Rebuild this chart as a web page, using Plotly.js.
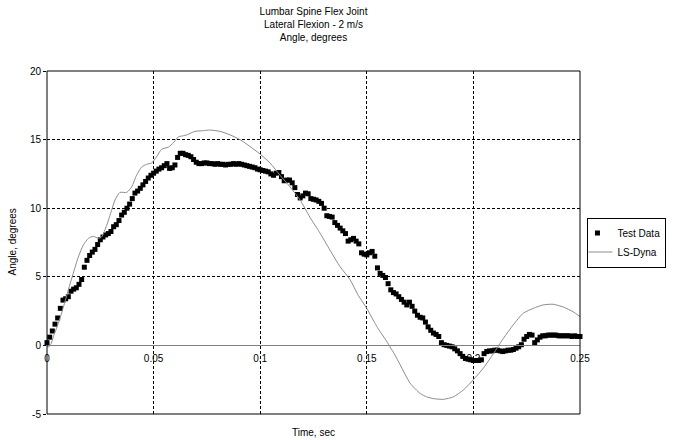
<!DOCTYPE html>
<html>
<head>
<meta charset="utf-8">
<script src="https://cdn.plot.ly/plotly-3.0.1.min.js"></script>
<style>html,body{margin:0;padding:0;background:#fff;}#chart{width:675px;height:440px;}</style>
</head>
<body>
<div id="chart"></div>
<script>
// Test data sampled every 0.00125 s from t = 0 to 0.25 s
var testStart = 0;
var testStep = 0.00125;
var testAngle = [
  0.2, 0.6, 1.05, 1.55, 2.0, 2.7, 3.3, 3.4, 3.55, 3.95,
  4.1, 4.2, 4.45, 4.8, 5.7, 6.2, 6.55, 6.8, 7.0, 7.35,
  7.7, 7.9, 8.05, 8.15, 8.3, 8.65, 8.8, 9.1, 9.5, 9.7,
  10.0, 10.3, 10.7, 11.1, 11.25, 11.45, 11.7, 11.95, 12.2, 12.4,
  12.55, 12.7, 12.85, 12.95, 13.1, 13.25, 12.9, 12.95, 13.15, 13.7,
  14.0, 14.0, 13.9, 13.85, 13.75, 13.55, 13.35, 13.25, 13.25, 13.3,
  13.3, 13.25, 13.25, 13.2, 13.25, 13.2, 13.2, 13.15, 13.2, 13.2,
  13.25, 13.2, 13.25, 13.2, 13.15, 13.1, 13.05, 13.0, 12.95, 12.85,
  12.8, 12.75, 12.7, 12.65, 12.5, 12.4, 12.55, 12.6, 12.3, 12.0,
  12.05, 12.05, 11.85, 11.5, 11.0, 10.75, 10.9, 11.1, 11.05, 10.7,
  10.65, 10.6, 10.5, 10.35, 10.0, 9.45, 9.4, 9.35, 8.95, 8.75,
  8.55, 8.35, 8.15, 7.6, 7.7, 7.8, 7.6, 7.4, 6.75, 6.65,
  6.6, 6.75, 6.85, 6.5, 5.65, 5.25, 5.1, 4.95, 4.5, 4.05,
  3.85, 3.75, 3.55, 3.35, 3.15, 2.95, 3.15, 2.85, 2.5, 2.2,
  2.05, 2.0, 1.7, 1.35, 1.1, 0.9, 0.8, 0.65, 0.2, 0.05,
  0.0, -0.05, -0.1, -0.25, -0.4, -0.6, -0.8, -0.95, -1.0, -1.05,
  -1.1, -1.1, -1.1, -1.05, -0.6, -0.45, -0.4, -0.4, -0.35, -0.35,
  -0.4, -0.45, -0.4, -0.35, -0.35, -0.3, -0.2, -0.1, 0.05, 0.45,
  0.65, 0.8, 0.75, 0.2, 0.4, 0.6, 0.7, 0.7, 0.75, 0.75,
  0.75, 0.75, 0.7, 0.7, 0.7, 0.7, 0.7, 0.65, 0.7, 0.65,
  0.65
];

// LS-Dyna simulation
var dynaTime = [
  0, 0.001, 0.002, 0.003, 0.0053, 0.0077, 0.01, 0.0123, 0.0147, 0.017,
  0.0194, 0.0217, 0.0241, 0.0256, 0.028, 0.0303, 0.0319, 0.0342, 0.0374, 0.0397,
  0.042, 0.0444, 0.0467, 0.0491, 0.0514, 0.0538, 0.0569, 0.0592, 0.0616, 0.0647,
  0.0671, 0.0694, 0.0733, 0.0764, 0.0811, 0.0858, 0.0905, 0.0952, 0.0999, 0.1046,
  0.1093, 0.114, 0.1187, 0.1233, 0.128, 0.1327, 0.1374, 0.1421, 0.146, 0.15,
  0.1546, 0.1593, 0.1632, 0.1656, 0.1703, 0.175, 0.1781, 0.1812, 0.1859, 0.1906,
  0.1953, 0.2, 0.2047, 0.2094, 0.214, 0.2187, 0.2234, 0.2281, 0.2327, 0.2374,
  0.2421, 0.2468, 0.25
];
var dynaAngle = [
  -0.1, -0.1, 0.15, 0.65, 1.6, 2.8, 4.05, 5.25, 6.45, 7.3,
  7.8, 7.95, 7.8, 7.9, 8.75, 9.85, 10.6, 11.15, 11.15, 11.55,
  12.4, 13.0, 13.2, 13.3, 13.75, 14.3, 14.45, 14.75, 15.2, 15.3,
  15.45, 15.6, 15.65, 15.7, 15.6, 15.35, 15.0, 14.5, 13.95, 13.3,
  12.4, 11.55, 10.6, 9.35, 8.2, 6.95, 5.75, 4.8, 3.65, 2.7,
  1.4, 0.3, -0.7, -1.4, -2.75, -3.5, -3.75, -3.88, -3.93, -3.75,
  -3.25, -2.5, -1.65, -0.6, 0.5, 1.5, 2.35, 2.7, 2.95, 3.0,
  2.8, 2.45, 2.1
];

var xTickVals = [0, 0.05, 0.1, 0.15, 0.2, 0.25];
var xTickText = ['0', '0.05', '0.1', '0.15', '0.2', '0.25'];
var yTickVals = [-5, 0, 5, 10, 15, 20];
var yTickText = ['-5', '0', '5', '10', '15', '20'];

var FONT = 'Liberation Sans, Arial, sans-serif';

var traces = [
  {
    type: 'scatter', mode: 'markers', name: 'Test Data',
    x0: testStart, dx: testStep, y: testAngle,
    marker: {symbol: 'square', size: 5, color: '#000000', line: {width: 0}},
    cliponaxis: false
  },
  {
    type: 'scatter', mode: 'lines', name: 'LS-Dyna',
    x: dynaTime, y: dynaAngle,
    line: {color: '#8c8c8c', width: 1, shape: 'spline', smoothing: 0.6}
  }
];

var layout = {
  width: 675, height: 440,
  paper_bgcolor: '#ffffff', plot_bgcolor: '#ffffff',
  margin: {l: 47, r: 95, t: 71, b: 26, autoexpand: false},
  font: {family: FONT, size: 10, color: '#000'},
  title: {
    text: 'Lumbar Spine Flex Joint<br>Lateral Flexion - 2 m/s<br>Angle, degrees',
    font: {family: FONT, size: 10, color: '#000'},
    x: 0.5, xref: 'paper', xanchor: 'center',
    y: 1, yref: 'container', yanchor: 'top', pad: {t: 15}
  },
  xaxis: {
    range: [0, 0.25], tickvals: xTickVals, ticktext: xTickText,
    anchor: 'free', position: 0.2,
    showline: true, linecolor: '#808080', linewidth: 1,
    ticks: 'outside', ticklen: 4, tickcolor: 'rgba(0,0,0,0)',
    showgrid: true, gridcolor: '#000', griddash: '3px,2px', gridwidth: 1,
    zeroline: false, tickfont: {family: FONT, size: 10, color: '#000'}
  },
  yaxis: {
    range: [-5, 20], tickvals: yTickVals, ticktext: yTickText,
    showline: false, ticks: 'outside', ticklen: 3, tickcolor: '#000',
    showgrid: true, gridcolor: '#000', griddash: '3px,2px', gridwidth: 1,
    zeroline: false, tickfont: {family: FONT, size: 10, color: '#000'}
  },
  shapes: [
    {type: 'rect', xref: 'paper', yref: 'paper', x0: 0, x1: 1, y0: 0, y1: 1,
     line: {color: '#000', width: 1}, fillcolor: 'rgba(0,0,0,0)', layer: 'above'}
  ],
  annotations: [
    {text: 'Time, sec', xref: 'paper', yref: 'paper', x: 0.5, y: 0,
     xanchor: 'center', yanchor: 'middle', yshift: -18, showarrow: false,
     font: {family: FONT, size: 10, color: '#000'}},
    {text: 'Angle, degrees', xref: 'paper', yref: 'paper', x: 0, y: 0.5,
     xanchor: 'center', yanchor: 'middle', xshift: -35, textangle: -90, showarrow: false,
     font: {family: FONT, size: 10, color: '#000'}}
  ],
  legend: {
    x: 1.014, xanchor: 'left', y: 0.5, yanchor: 'middle',
    bordercolor: '#000', borderwidth: 1, bgcolor: '#fff',
    font: {family: FONT, size: 10, color: '#000'},
    itemwidth: 30, tracegroupgap: 0, indentation: -11
  },
  showlegend: true
};

Plotly.newPlot('chart', traces, layout, {displayModeBar: false, staticPlot: true});
</script>
</body>
</html>
